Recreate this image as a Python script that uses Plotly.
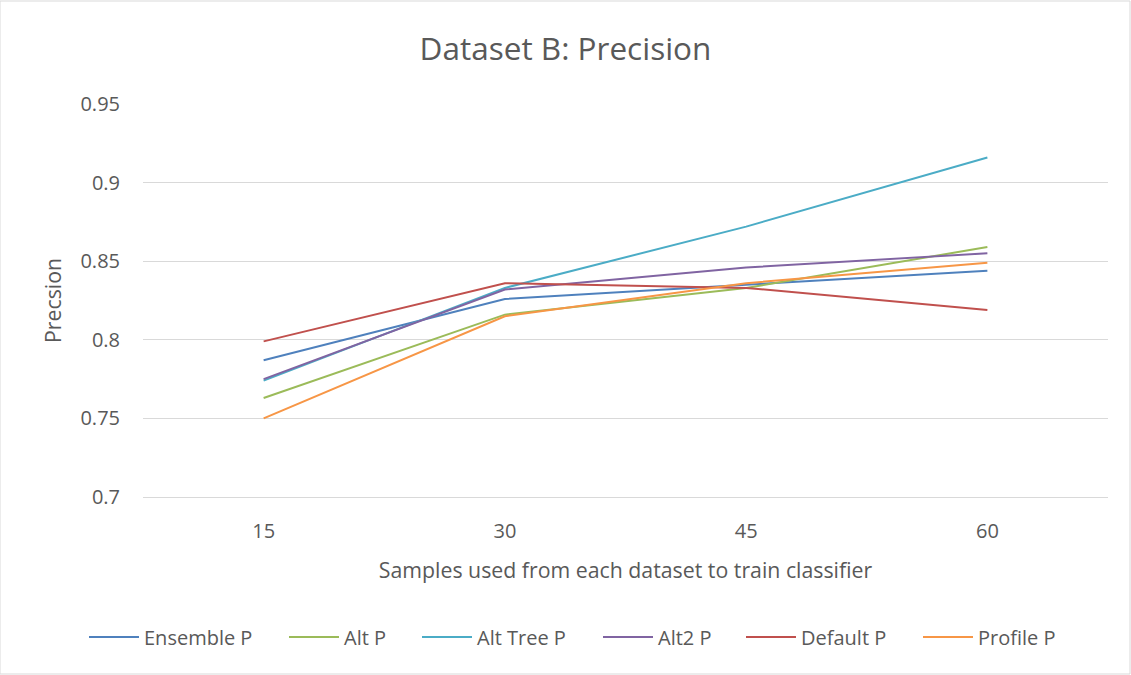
import plotly.graph_objects as go

categories = ["15", "30", "45", "60"]
ensemble_p = [0.787, 0.826, 0.835, 0.844]
alt_p = [0.763, 0.816, 0.833, 0.859]
alt_tree_p = [0.774, 0.833, 0.872, 0.916]
alt2_p = [0.775, 0.832, 0.846, 0.855]
default_p = [0.799, 0.836, 0.833, 0.819]
profile_p = [0.750, 0.815, 0.836, 0.849]

series = [
    ("Ensemble P", ensemble_p, "#4F81BD"),
    ("Alt P", alt_p, "#9BBB59"),
    ("Alt Tree P", alt_tree_p, "#4BACC6"),
    ("Alt2 P", alt2_p, "#8064A2"),
    ("Default P", default_p, "#C0504D"),
    ("Profile P", profile_p, "#F79646"),
]
legend_left_px = [92, 292, 425, 606, 749, 926]

font = "Open Sans, Lato, sans-serif"
L, R, T, B = 143, 23, 104, 178
W, H = 1131, 675
pw, ph = W - L - R, H - T - B

fig = go.Figure()
legend_layout = {}
for i, (name, vals, color) in enumerate(series):
    key = "legend" if i == 0 else f"legend{i + 1}"
    fig.add_trace(go.Scatter(x=categories, y=vals, mode="lines", name=name,
                             line=dict(color=color, width=2), legend=key))
    legend_layout[key] = dict(
        orientation="h", x=(legend_left_px[i] - L - 8) / pw, xanchor="left",
        y=-(637 - (T + ph)) / ph, yanchor="middle",
        font=dict(size=20, color="#595959", family=font), itemwidth=50,
        bgcolor="rgba(0,0,0,0)")

fig.update_layout(
    width=W, height=H,
    paper_bgcolor="white", plot_bgcolor="white",
    margin=dict(l=L, r=R, t=T, b=B),
    font=dict(family=font, color="#595959", size=20),
    title=dict(text="Dataset B: Precision", x=0.5, xanchor="center", y=0.928, yanchor="middle",
               font=dict(size=31.5, color="#595959", family=font)),
    xaxis=dict(type="category", range=[-0.5, 3.5], showgrid=False,
               showline=True, linecolor="#D9D9D9", linewidth=1,
               ticks="", tickfont=dict(size=20, color="#595959"), ticklabelstandoff=16,
               title=dict(text="Samples used from each dataset to train classifier",
                          font=dict(size=21.3, color="#595959"), standoff=20)),
    yaxis=dict(range=[0.7, 0.95], tickvals=[0.7, 0.75, 0.8, 0.85, 0.9, 0.95],
               ticktext=["0.7", "0.75", "0.8", "0.85", "0.9", "0.95"],
               showgrid=True, gridcolor="#D9D9D9", gridwidth=1, zeroline=False,
               showline=False, ticks="", tickfont=dict(size=20, color="#595959"),
               ticklabelstandoff=22,
               title=dict(text="Precsion", font=dict(size=21.3, color="#595959"), standoff=12)),
    showlegend=True,
    **legend_layout,
)
fig.add_shape(type="rect", xref="paper", yref="paper", x0=-L / pw, x1=1 + (R - 1) / pw,
              y0=-(B - 1) / ph, y1=1 + (T - 1) / ph, line=dict(color="#D9D9D9", width=1))

fig.write_html("out.html")
